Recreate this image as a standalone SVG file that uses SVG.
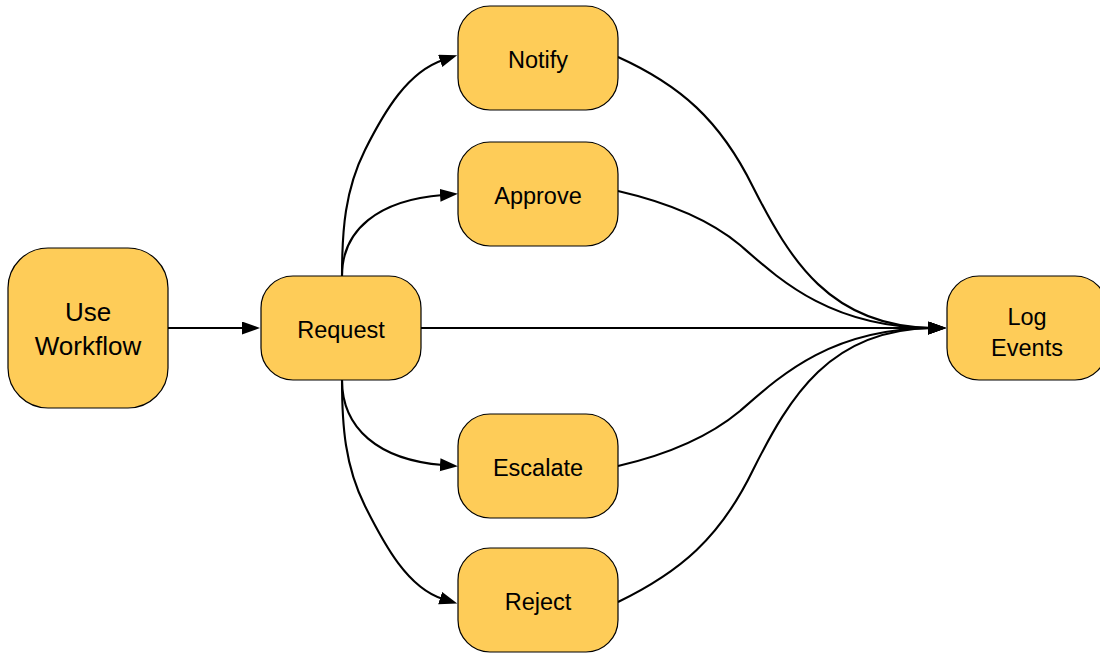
<svg xmlns="http://www.w3.org/2000/svg" width="1100" height="654" viewBox="0 0 1100 654">
  <style>
    .node rect { fill: #fecc58; stroke: #000; stroke-width: 1.2; }
    .node text { font-family: "Liberation Sans", Arial, sans-serif; font-size: 23.5px; fill: #000; text-anchor: middle; }
    .node text.big { font-size: 26px; }
    .edges path { fill: none; stroke: #000; stroke-width: 2.1; marker-end: url(#arrow); }
  </style>
  <defs>
    <marker id="arrow" markerUnits="userSpaceOnUse" markerWidth="20" markerHeight="14" refX="3" refY="6.5" orient="auto">
      <path d="M0,0 L18,6.5 L0,13 z" fill="#000"/>
    </marker>
  </defs>
  <rect width="1100" height="654" fill="#fff"/>
  <g class="edges">
    <path d="M168,328 L245,328"/>
    <path d="M421,328 L931,328"/>
    <path d="M342,276 C342,230 345,190 365,150 C385,110 408,72 443,60"/>
    <path d="M342,276 C342,230 378,200 443,195"/>
    <path d="M342,380 C342,428 378,460 443,465"/>
    <path d="M342,380 C342,426 345,466 365,506 C385,546 408,588 443,599"/>
    <path d="M618,57 C680,85 720,120 753,187 C790,260 830,326 931,328"/>
    <path d="M618,191 C670,203 710,220 740,245 C780,280 830,327 931,328"/>
    <path d="M618,466 C670,454 710,436 740,411 C780,376 830,329 931,328"/>
    <path d="M618,602 C680,572 720,538 753,470 C790,396 830,330 931,328"/>
  </g>
  <g id="use-workflow" class="node">
    <rect x="8" y="248" width="160" height="160" rx="40" ry="40"/>
    <text class="big" x="88" y="321">Use</text>
    <text class="big" x="88" y="355">Workflow</text>
  </g>
  <g id="request" class="node">
    <rect x="261" y="276" width="160" height="104" rx="32" ry="32"/>
    <text x="341" y="338">Request</text>
  </g>
  <g id="notify" class="node">
    <rect x="458" y="6" width="160" height="104" rx="32" ry="32"/>
    <text x="538" y="68">Notify</text>
  </g>
  <g id="approve" class="node">
    <rect x="458" y="142" width="160" height="104" rx="32" ry="32"/>
    <text x="538" y="204">Approve</text>
  </g>
  <g id="escalate" class="node">
    <rect x="458" y="414" width="160" height="104" rx="32" ry="32"/>
    <text x="538" y="476">Escalate</text>
  </g>
  <g id="reject" class="node">
    <rect x="458" y="548" width="160" height="104" rx="32" ry="32"/>
    <text x="538" y="610">Reject</text>
  </g>
  <g id="log-events" class="node">
    <rect x="947" y="276" width="160" height="104" rx="32" ry="32"/>
    <text x="1027" y="325">Log</text>
    <text x="1027" y="356">Events</text>
  </g>
</svg>
